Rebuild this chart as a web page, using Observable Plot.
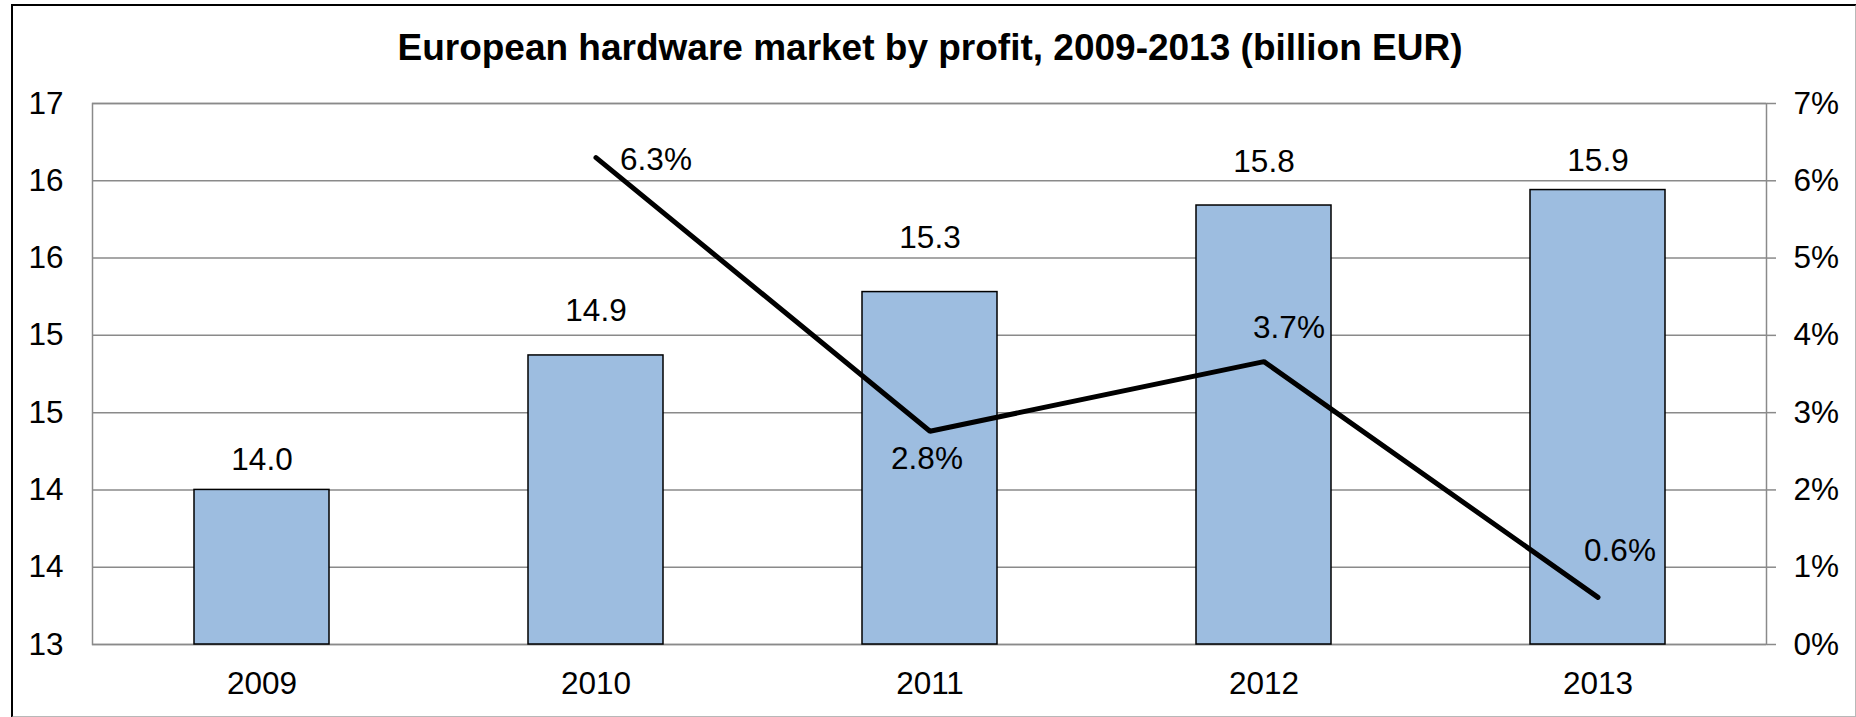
<!DOCTYPE html>
<html>
<head>
<meta charset="utf-8">
<script src="https://cdn.jsdelivr.net/npm/d3@7"></script>
<script src="https://cdn.jsdelivr.net/npm/@observablehq/plot@0.6"></script>
<style>
  html, body { margin: 0; padding: 0; background: #fff; }
  #wrap { position: relative; width: 1856px; height: 717px; overflow: hidden; font-family: "Liberation Sans", Arial, sans-serif; }
  #border { position: absolute; left: 11px; top: 4px; width: 1842px; height: 710px;
            border-top: 2px solid #000; border-left: 2px solid #000;
            border-right: 2px solid #b8b8b8; border-bottom: 2px solid #b8b8b8; pointer-events: none; }
  #title { position: absolute; left: 0; top: 0; width: 1856px; height: 80px; box-sizing: border-box;
           padding-top: 29px; text-align: center; font-weight: bold; font-size: 37px; line-height: 37px; color: #000; padding-left: 4px; }
  #chart { position: absolute; left: 0; top: 80px; }
</style>
</head>
<body>
<div id="wrap">
  <div id="title">European hardware market by profit, 2009-2013 (billion EUR)</div>
  <div id="chart"></div>
  <div id="border"></div>
</div>
<script>
// ---- data ----
const years = ["2009", "2010", "2011", "2012", "2013"];
const profit = [14.0, 14.87, 15.28, 15.84, 15.94];          // billion EUR (bars, left axis)
const growthYears = ["2010", "2011", "2012", "2013"];
const growth = [6.3, 2.76, 3.66, 0.61];                      // % growth (line, right axis)
const leftTicks = [13, 13.5, 14, 14.5, 15, 15.5, 16, 16.5];
const rightTickLabels = ["0%", "1%", "2%", "3%", "4%", "5%", "6%", "7%"];

// ---- derived tables ----
const yMin = 13, yMax = 16.5, pctMax = 7;
const toLeft = p => yMin + p * (yMax - yMin) / pctMax;      // map % onto the left-axis units
const bars = years.map((y, i) => ({year: y, value: profit[i]}));
const line = growthYears.map((y, i) => ({year: y, pct: growth[i], v: toLeft(growth[i])}));

// label placement (styling only)
const barLabelDy = {"2009": -30, "2010": -45, "2011": -54, "2012": -44, "2013": -29};
const lineLabelOff = {"2010": [60, 2], "2011": [-3, 28], "2012": [25, -34], "2013": [22, -46]};

const FONT = 31.5;
const grid = "#8a8a8a";

const plot = Plot.plot({
  width: 1856,
  height: 637,
  marginTop: 23,
  marginBottom: 73,
  marginLeft: 92,
  marginRight: 90,
  style: {fontFamily: '"Liberation Sans", Arial, sans-serif', fontSize: FONT + "px", color: "#000", background: "transparent"},
  x: {type: "band", domain: years, paddingInner: 0.597, paddingOuter: 0.2985, label: null},
  y: {domain: [yMin, yMax], label: null},
  marks: [
    Plot.gridY(leftTicks, {stroke: grid, strokeOpacity: 1, strokeWidth: 1.5}),
    Plot.frame({stroke: grid, strokeWidth: 1.5}),
    Plot.barY(bars, {x: "year", y1: yMin, y2: "value", fill: "#9dbde0", stroke: "#000", strokeWidth: 1.5}),
    ...years.map(yr => Plot.text(bars.filter(d => d.year === yr), {
      x: "year", y: "value", text: d => d.value.toFixed(1),
      dy: barLabelDy[yr], fontSize: FONT, fill: "#000", lineAnchor: "middle"})),
    Plot.line(line, {x: "year", y: "v", stroke: "#000", strokeWidth: 5, strokeLinecap: "round", strokeLinejoin: "miter"}),
    ...growthYears.map(yr => Plot.text(line.filter(d => d.year === yr), {
      x: "year", y: "v", text: d => d.pct.toFixed(1) + "%",
      dx: lineLabelOff[yr][0], dy: lineLabelOff[yr][1], fontSize: FONT, fill: "#000", lineAnchor: "middle"})),
    Plot.axisY(leftTicks, {anchor: "left", tickSize: 0, tickPadding: 29, tickFormat: d => String(Math.round(d)), fontSize: FONT, label: null}),
    Plot.axisY(leftTicks, {anchor: "right", tickSize: 9, tickPadding: 18, stroke: grid, strokeWidth: 1.5,
      tickFormat: (d, i) => rightTickLabels[i], fontSize: FONT, label: null}),
    Plot.axisX({anchor: "bottom", tickSize: 0, tickPadding: 27, fontSize: FONT, label: null})
  ]
});

document.getElementById("chart").appendChild(plot);
</script>
</body>
</html>
